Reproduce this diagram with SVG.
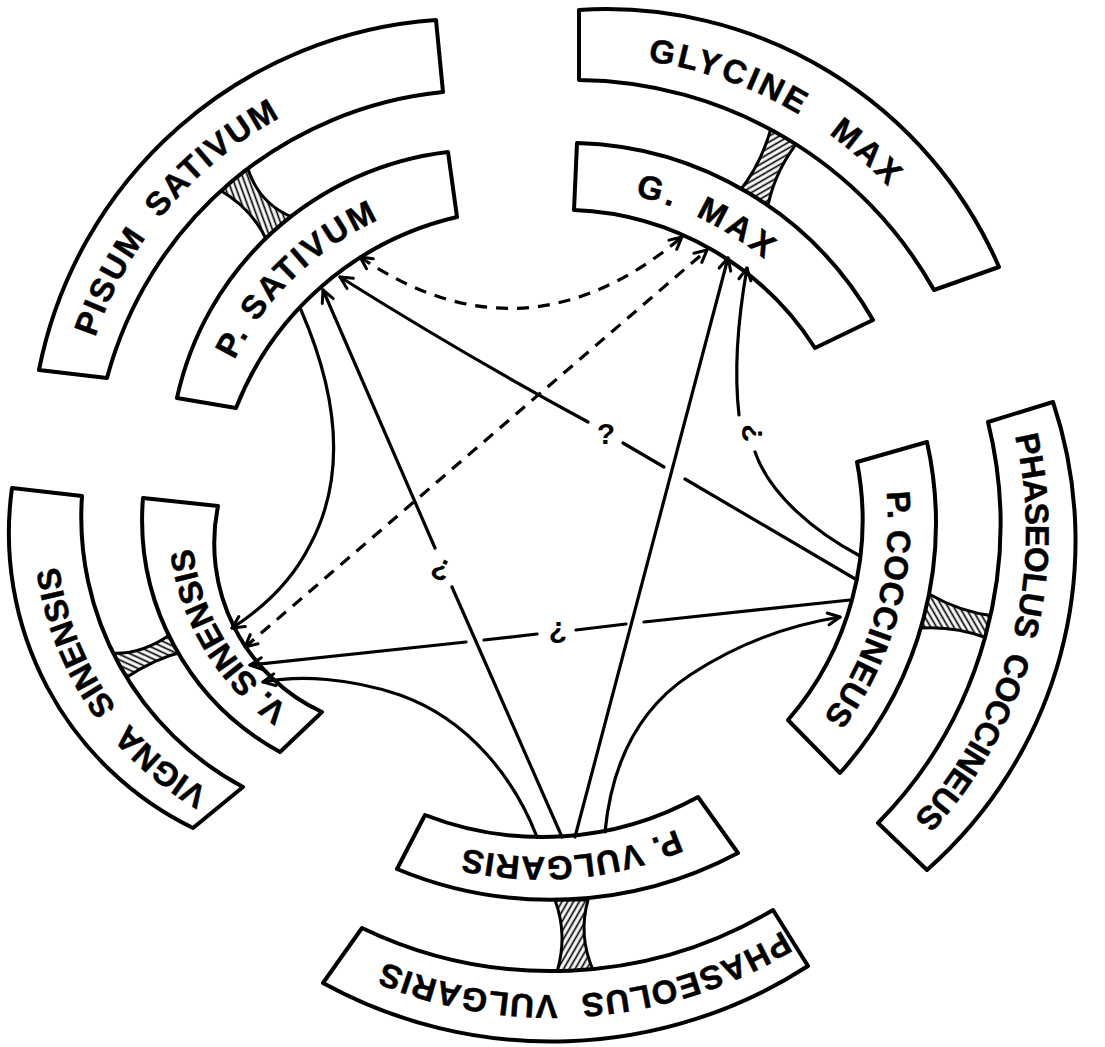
<svg xmlns="http://www.w3.org/2000/svg" width="1105" height="1047" viewBox="0 0 1105 1047">
<defs>
<style>
.band{fill:#fff;stroke:#000;stroke-width:4;stroke-linejoin:round}
.hatch{stroke:#000;stroke-width:3;stroke-linejoin:round}
.lbl{font-family:"Liberation Sans",Arial,sans-serif;font-weight:bold;font-size:33px;fill:#000;stroke:#000;stroke-width:0.5;text-anchor:middle}
.ln{fill:none;stroke:#000;stroke-width:3.2;stroke-linecap:round}
.dash{stroke-dasharray:12 9;stroke-linecap:butt}
.q{font-family:"Liberation Sans",Arial,sans-serif;font-weight:bold;font-size:30px;fill:#000;text-anchor:middle}
</style>
<marker id="ah" viewBox="0 0 16 16" refX="14" refY="8" markerWidth="16" markerHeight="16" markerUnits="userSpaceOnUse" orient="auto-start-reverse">
<path d="M2,2 L14,8 L2,14" fill="none" stroke="#000" stroke-width="3" stroke-linecap="round" stroke-linejoin="round"/>
</marker>
<pattern id="hPis" width="5" height="5" patternUnits="userSpaceOnUse" patternTransform="rotate(-20)"><line x1="2.5" y1="0" x2="2.5" y2="5" stroke="#000" stroke-width="1.7"/></pattern>
<pattern id="hGly" width="5" height="5" patternUnits="userSpaceOnUse" patternTransform="rotate(60)"><line x1="2.5" y1="0" x2="2.5" y2="5" stroke="#000" stroke-width="1.7"/></pattern>
<pattern id="hCoc" width="5" height="5" patternUnits="userSpaceOnUse" patternTransform="rotate(-30)"><line x1="2.5" y1="0" x2="2.5" y2="5" stroke="#000" stroke-width="1.7"/></pattern>
<pattern id="hVul" width="5" height="5" patternUnits="userSpaceOnUse" patternTransform="rotate(30)"><line x1="2.5" y1="0" x2="2.5" y2="5" stroke="#000" stroke-width="1.7"/></pattern>
<pattern id="hVig" width="5" height="5" patternUnits="userSpaceOnUse" patternTransform="rotate(-65)"><line x1="2.5" y1="0" x2="2.5" y2="5" stroke="#000" stroke-width="1.7"/></pattern>
<path id="tp1" d="M97.4,599.1 A396,396 0 0 1 540.1,75.3"/>
<path id="tp2" d="M212.0,567.1 A302,302 0 0 1 588.2,203.7"/>
<path id="tp3" d="M372.3,120.0 A408,408 0 0 1 997.7,449.0"/>
<path id="tp4" d="M390.7,240.6 A315,315 0 0 1 879.4,483.2"/>
<path id="tp5" d="M901.6,233.3 A421,421 0 0 1 715.4,938.3"/>
<path id="tp6" d="M794.7,292.9 A328,328 0 0 1 641.0,839.8"/>
<path id="tp7" d="M951.9,742.7 A443,443 0 0 1 186.9,802.9"/>
<path id="tp8" d="M855.5,656.6 A347,347 0 0 1 256.8,709.0"/>
<path id="tp9" d="M382.8,830.3 A306,306 0 0 1 87.2,390.4"/>
<path id="tp10" d="M424.0,749.0 A229,229 0 0 1 219.7,409.0"/>
</defs>
<rect width="1105" height="1047" fill="#fff"/>

<g id="hatched-links">
<path class="hatch" fill="url(#hPis)" d="M218,189 Q252,208 267,241 L292,217 Q258,203 247,166 Z"/>
<path class="hatch" fill="url(#hGly)" d="M772,125 Q762,163 739,192 L768,205 Q776,168 801,138 Z"/>
<path class="hatch" fill="url(#hCoc)" d="M929,594 Q960,612 994,616 L987,638 Q955,626 921,628 Z"/>
<path class="hatch" fill="url(#hVul)" d="M555,900 Q568,935 557,972 L593,970 Q578,935 588,900 Z"/>
<path class="hatch" fill="url(#hVig)" d="M108,653 Q140,656 171,634 L186,651 Q155,658 124,679 Z"/>
</g>

<g id="pisum-sativum">
<path class="band" d="M39,370 A435,435 0 0 1 436,20 L443,92 A388,388 0 0 0 107,378 Z"/>
<text class="lbl" style="letter-spacing:2px;word-spacing:10px"><textPath href="#tp1" startOffset="50%">PISUM SATIVUM</textPath></text>
</g>
<g id="p-sativum">
<path class="band" d="M177,398 A315,315 0 0 1 448,152 L457,217 A314,314 0 0 0 236,408 Z"/>
<text class="lbl" style="letter-spacing:2.5px"><textPath href="#tp2" startOffset="50%">P. SATIVUM</textPath></text>
</g>
<g id="glycine-max">
<path class="band" d="M579,10 A428,428 0 0 1 999,267 L934,290 A412,412 0 0 0 579,80 Z"/>
<text class="lbl" style="letter-spacing:3px;word-spacing:20px"><textPath href="#tp3" startOffset="50%">GLYCINE MAX</textPath></text>
</g>
<g id="g-max">
<path class="band" d="M577,143 A352,352 0 0 1 873,320 L815,348 A300,300 0 0 0 574,210 Z"/>
<text class="lbl" style="letter-spacing:4px;word-spacing:8px"><textPath href="#tp4" startOffset="50%">G. MAX</textPath></text>
</g>
<g id="phaseolus-coccineus">
<path class="band" d="M1053,402 A439,439 0 0 1 927,870 L878,823 A426,426 0 0 0 988,422 Z"/>
<text class="lbl" style="letter-spacing:-0.5px;word-spacing:8px"><textPath href="#tp5" startOffset="50%">PHASEOLUS COCCINEUS</textPath></text>
</g>
<g id="p-coccineus">
<path class="band" d="M927,442 A374,374 0 0 1 840,773 L788,720 A305,305 0 0 0 857,462 Z"/>
<text class="lbl" style="letter-spacing:0.5px"><textPath href="#tp6" startOffset="50%">P. COCCINEUS</textPath></text>
</g>
<g id="phaseolus-vulgaris">
<path class="band" d="M808,966 A474,474 0 0 1 323,983 L362,928 A435,435 0 0 0 773,910 Z"/>
<text class="lbl" style="letter-spacing:1px;word-spacing:12px"><textPath href="#tp7" startOffset="50%">PHASEOLUS VULGARIS</textPath></text>
</g>
<g id="p-vulgaris">
<path class="band" d="M738,853 A399,399 0 0 1 397,869 L425,815 A323,323 0 0 0 698,797 Z"/>
<text class="lbl" style="letter-spacing:1px"><textPath href="#tp8" startOffset="50%">P. VULGARIS</textPath></text>
</g>
<g id="vigna-sinensis">
<path class="band" d="M193,828 A328,328 0 0 1 12,488 L82,496 A306,306 0 0 0 243,787 Z"/>
<text class="lbl" style="letter-spacing:0px;word-spacing:12px"><textPath href="#tp9" startOffset="50%">VIGNA SINENSIS</textPath></text>
</g>
<g id="v-sinensis">
<path class="band" d="M280,752 A265,265 0 0 1 143,498 L218,506 A186,186 0 0 0 322,712 Z"/>
<text class="lbl" style="letter-spacing:0px"><textPath href="#tp10" startOffset="50%">V. SINENSIS</textPath></text>
</g>

<g id="connectors">
<path class="ln dash" d="M360,257 Q525,369 682,237" marker-start="url(#ah)" marker-end="url(#ah)"/>
<path class="ln dash" d="M245,647 L707,250" marker-start="url(#ah)" marker-end="url(#ah)"/>
<path class="ln" d="M857,580 L685,479"/>
<path class="ln" d="M664,467 L623,443"/>
<path class="ln" d="M588,422 Q466,356 340,277" marker-end="url(#ah)"/>
<text class="q" x="606" y="444">?</text>
<path class="ln" d="M562,837 L452,587"/>
<path class="ln" d="M435,548 L323,290" marker-end="url(#ah)"/>
<text class="q" x="441" y="575" transform="rotate(25 441 570)">¿</text>
<path class="ln" d="M575,837 L728,258" marker-end="url(#ah)"/>
<path class="ln" d="M860,556 C815,532 770,495 755,452"/>
<path class="ln" d="M739,415 C735,380 736,330 747,268" marker-end="url(#ah)"/>
<text class="q" x="751" y="444" transform="rotate(-90 751 433)">?</text>
<path class="ln" d="M850,600 L644,622"/>
<path class="ln" d="M626,624 L576,630"/>
<path class="ln" d="M537,634 L484,640"/>
<path class="ln" d="M466,642 L250,665" marker-end="url(#ah)"/>
<text class="q" x="558" y="638">¿</text>
<path class="ln" d="M301,310 C340,400 345,480 310,545 C290,585 260,610 232,628" marker-end="url(#ah)"/>
<path class="ln" d="M605,832 C612,760 640,708 690,675 C740,642 790,625 840,617" marker-end="url(#ah)"/>
<path class="ln" d="M537,837 C515,780 470,720 400,695 C350,678 300,675 263,682" marker-end="url(#ah)"/>
</g>
</svg>
